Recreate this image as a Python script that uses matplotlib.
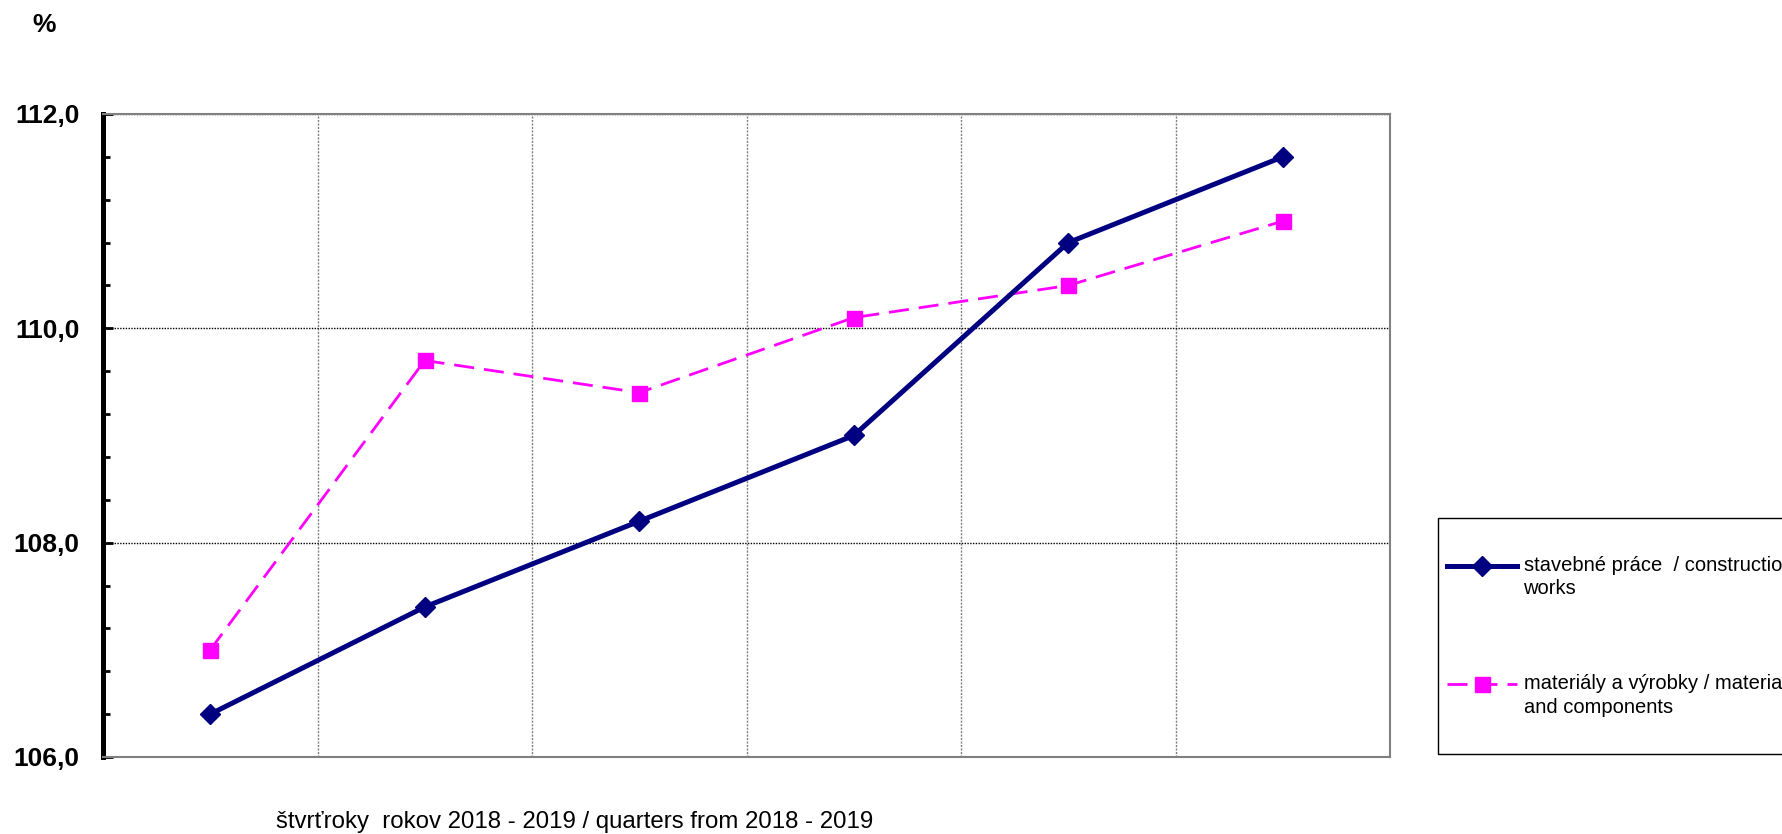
import numpy as np
import matplotlib
matplotlib.use('Agg')
import matplotlib.pyplot as plt
from matplotlib.patches import Rectangle
from matplotlib.legend_handler import HandlerLine2D
from matplotlib.ticker import MultipleLocator, FuncFormatter

plt.rcParams['font.family'] = ['Liberation Sans', 'DejaVu Sans']

# data: quarters 2018 - 2019 (6 points, no tick labels in the original)
quarters = ['Q3 2018', 'Q4 2018', 'Q1 2019', 'Q2 2019', 'Q3 2019', 'Q4 2019']
constr = [106.4, 107.4, 108.2, 109.0, 110.8, 111.6]
materials = [107.0, 109.7, 109.4, 110.1, 110.4, 111.0]

lab_constr = 'stavebné práce  / construction\nworks'
lab_mat = 'materiály a výrobky / materials\nand components'
xlabel = 'štvrťroky  rokov 2018 - 2019 / quarters from 2018 - 2019'


# legend handles sit next to the first line of a two-line label
class FirstLineHandler(HandlerLine2D):
    def create_artists(self, legend, orig_handle, xdescent, ydescent,
                       width, height, fontsize, trans):
        arts = super().create_artists(legend, orig_handle, xdescent, ydescent,
                                      width, height, fontsize, trans)
        for a in arts:
            a.set_ydata(np.asarray(a.get_ydata(), float) + 8.3)
        return arts


W, H = 1782, 834
fig = plt.figure(figsize=(W / 100, H / 100), dpi=100)
ax = fig.add_axes([103 / W, (H - 757) / H, (1390 - 103) / W, (757 - 114) / H])

x = np.arange(len(quarters))
l1, = ax.plot(x, constr, color='#000080', lw=3.6, marker='D', ms=10.5,
              label=lab_constr, zorder=4)
l2, = ax.plot(x, materials, color='#FF00FF', lw=2, dashes=(7.2, 3.6),
              marker='s', ms=10.8, label=lab_mat, zorder=3)

ax.set_xlim(-0.5, len(quarters) - 0.5)
ax.set_ylim(106, 112)

# vertical grid lines between the quarters
ax.set_xticks(x[:-1] + 0.5)
ax.set_xticklabels([])
ax.tick_params(axis='x', length=0)
ax.grid(axis='x', color='#808080', lw=1, ls=(0, (1.5, 1)))

ax.yaxis.set_major_locator(MultipleLocator(2))
ax.yaxis.set_minor_locator(MultipleLocator(0.4))
ax.yaxis.set_major_formatter(FuncFormatter(lambda v, p: f'{v:.1f}'.replace('.', ',')))
ax.tick_params(axis='y', which='both', direction='in', width=2, pad=17,
               labelsize=19)
ax.tick_params(axis='y', which='major', length=7)
ax.tick_params(axis='y', which='minor', length=5)
for t in ax.get_yticklabels():
    t.set_fontweight('bold')
ax.grid(axis='y', color='black', lw=1, ls=(0, (1, 1)))

for s in ['top', 'right', 'bottom']:
    ax.spines[s].set_color('#808080')
    ax.spines[s].set_linewidth(1.5)
ax.spines['left'].set_color('black')
ax.spines['left'].set_linewidth(3.6)

fig.text(44 / W, 1 - 25 / H, '%', fontsize=19, fontweight='bold',
         ha='center', va='center')
fig.text(276 / W, 1 - 822 / H, xlabel, fontsize=17.3, ha='left', va='center')

# legend box
fig.patches.append(Rectangle((1438 / W, 1 - 754 / H), (W - 1438 + 20) / W,
                             (754 - 518) / H, transform=fig.transFigure,
                             fill=False, ec='black', lw=1))
leg = ax.legend(loc='upper left', bbox_to_anchor=(1447 / W, 1 - 556 / H),
                bbox_transform=fig.transFigure, frameon=False, fontsize=14.5,
                handlelength=3.5, handletextpad=0.3, labelspacing=3.75,
                borderpad=0, borderaxespad=0,
                handler_map={l1: FirstLineHandler(), l2: FirstLineHandler()})
for t in leg.get_texts():
    t.set_linespacing(1.3)

fig.savefig('out.png', dpi=100)
